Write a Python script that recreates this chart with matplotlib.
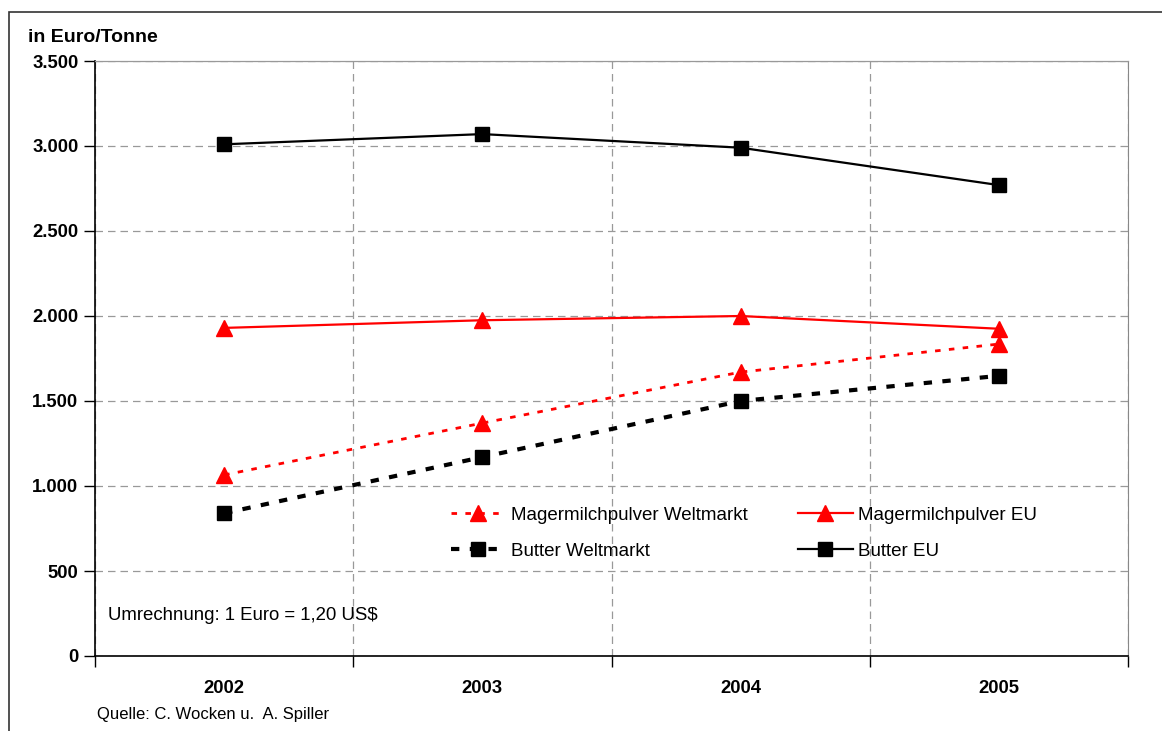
import matplotlib.pyplot as plt
from matplotlib.ticker import FuncFormatter, FixedLocator
from matplotlib.patches import Rectangle

plt.rcParams['font.family'] = ['Liberation Sans', 'DejaVu Sans']

jahre = ['2002', '2003', '2004', '2005']
mmp_welt = [1065, 1370, 1670, 1835]
mmp_eu = [1930, 1975, 2000, 1925]
butter_welt = [840, 1170, 1500, 1648]
butter_eu = [3010, 3070, 2990, 2770]

fig = plt.figure(figsize=(11.62, 7.31), dpi=100)
ax = fig.add_axes([95 / 1162, 1 - 656 / 731, (1128 - 95) / 1162, (656 - 61) / 731])

x = range(len(jahre))
l1, = ax.plot(x, mmp_welt, color='red', linestyle=(0, (2, 3)), lw=2, marker='^', markersize=11,
              label='Magermilchpulver Weltmarkt')
l2, = ax.plot(x, mmp_eu, color='red', linestyle='-', lw=1.6, marker='^', markersize=11,
              label='Magermilchpulver EU')
l3, = ax.plot(x, butter_welt, color='black', linestyle=(0, (2, 2.5)), lw=3, marker='s', markersize=10,
              label='Butter Weltmarkt')
l4, = ax.plot(x, butter_eu, color='black', linestyle='-', lw=1.6, marker='s', markersize=10,
              label='Butter EU')

ax.set_xlim(-0.5, 3.5)
ax.set_ylim(0, 3500)
ax.set_yticks(range(0, 3501, 500))
ax.yaxis.set_major_formatter(FuncFormatter(lambda v, p: f'{int(v):,}'.replace(',', '.')))
ax.set_xticks([0, 1, 2, 3])
ax.set_xticklabels(jahre, fontweight='bold', fontsize=13.3)
ax.xaxis.set_minor_locator(FixedLocator([-0.5, 0.5, 1.5, 2.5, 3.5]))
ax.tick_params(axis='x', which='major', length=0, pad=17)
ax.tick_params(axis='x', which='minor', length=8, width=1, direction='out')
ax.tick_params(axis='y', length=8, width=1, direction='out', pad=4)
for lab in ax.get_yticklabels():
    lab.set_fontweight('bold')
    lab.set_fontsize(13.3)

ax.grid(axis='y', which='major', color='#999999', linestyle=(0, (6, 4)), lw=0.9)
ax.grid(axis='x', which='minor', color='#999999', linestyle=(0, (6, 4)), lw=0.9)
ax.spines['left'].set_linewidth(1.2)
ax.spines['bottom'].set_linewidth(1.2)
ax.spines['right'].set_color('#888888')
ax.spines['top'].set_color('#999999')
ax.spines['top'].set_linewidth(0.9)

# Reihenfolge wie im Original: Zeile 1 Magermilchpulver, Zeile 2 Butter
leg = fig.legend([l1, l3, l2, l4],
                 [l1.get_label(), l3.get_label(), l2.get_label(), l4.get_label()],
                 ncol=2, frameon=False, fontsize=13.5,
                 loc='upper left', bbox_to_anchor=(434 / 1162, 1 - 490 / 731),
                 handlelength=2.9, handletextpad=0.3, columnspacing=2.7, labelspacing=1.0)

fig.text(28 / 1162, 1 - 38 / 731, 'in Euro/Tonne', fontweight='bold', fontsize=14, va='center')
fig.text(108 / 1162, 1 - 615 / 731, 'Umrechnung: 1 Euro = 1,20 US$', fontsize=13.4, va='center')
fig.text(97 / 1162, 1 - 715 / 731, 'Quelle: C. Wocken u.  A. Spiller', fontsize=12, va='center')

fig.patches.append(Rectangle((9 / 1162, -0.01), 1.0, 1 - 12 / 731 + 0.01, transform=fig.transFigure,
                             fill=False, edgecolor='#333333', lw=1.2))

fig.savefig('out.png', dpi=100)
